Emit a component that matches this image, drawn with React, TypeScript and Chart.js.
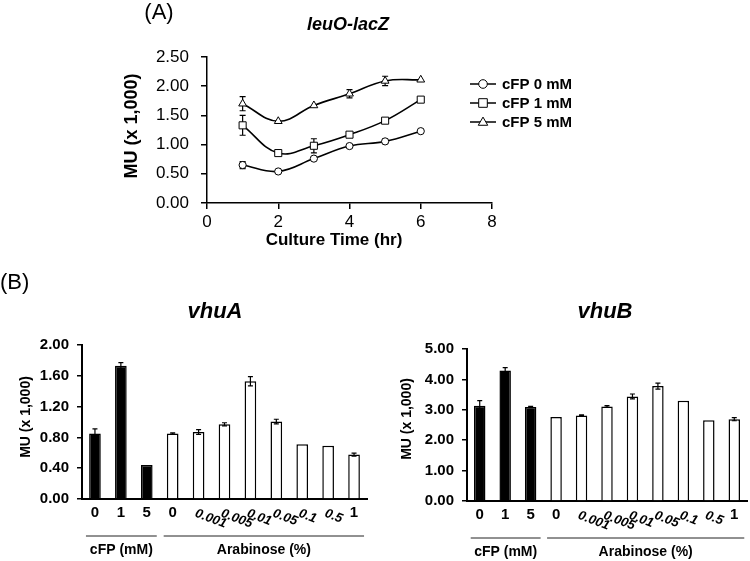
import React, { useEffect, useRef } from 'react';
import { Chart, registerables } from 'chart.js';

Chart.register(...registerables);

const FONT = "'Liberation Sans', Arial, Helvetica, sans-serif";
Chart.defaults.font.family = FONT;
Chart.defaults.color = '#000';

const W = 750;
const H = 561;

// ---------- Panel A data ----------
const timeHours = [1, 2, 3, 4, 5, 6];
const cfp0 = [0.65, 0.54, 0.76, 0.975, 1.055, 1.23];
const cfp0Err = [0.06, 0, 0, 0, 0.04, 0];
const cfp1 = [1.33, 0.855, 0.98, 1.17, 1.41, 1.77];
const cfp1Err = [0.17, 0, 0.12, 0, 0, 0];
const cfp5 = [1.7, 1.4, 1.67, 1.87, 2.09, 2.11];
const cfp5Err = [0.12, 0, 0, 0.07, 0.08, 0];
const seriesNamesA = ['cFP 0 mM', 'cFP 1 mM', 'cFP 5 mM'];
const markerStylesA = ['circle', 'rect', 'triangle'];

// ---------- Panel B data ----------
const conditionLabels = ['0', '1', '5', '0', '0.001', '0.005', '0.01', '0.05', '0.1', '0.5', '1'];
const vhuAValues = [0.85, 1.73, 0.44, 0.85, 0.87, 0.97, 1.53, 1.006, 0.71, 0.69, 0.577];
const vhuAErr = [0.06, 0.04, 0, 0.01, 0.03, 0.02, 0.06, 0.03, 0, 0, 0.02];
const vhuBValues = [3.13, 4.29, 3.09, 2.76, 2.81, 3.11, 3.44, 3.78, 3.3, 2.66, 2.69];
const vhuBErr = [0.17, 0.1, 0.02, 0, 0.02, 0.03, 0.08, 0.1, 0, 0, 0.05];
const groupNames = ['cFP (mM)', 'Arabinose (%)'];
const groupFirst = [0, 3];
const groupLast = [2, 10];

type TextItem = { text: string; x: number; y: number; font: string; rotate?: number; align?: CanvasTextAlign };

function textsPlugin(items: TextItem[]) {
  return {
    id: 'texts',
    afterDraw(chart: any) {
      const ctx = chart.ctx as CanvasRenderingContext2D;
      items.forEach((t) => {
        ctx.save();
        ctx.translate(t.x, t.y);
        if (t.rotate) ctx.rotate(t.rotate);
        ctx.font = t.font;
        ctx.fillStyle = '#000';
        ctx.textAlign = t.align || 'center';
        ctx.textBaseline = 'middle';
        ctx.fillText(t.text, 0, 0);
        ctx.restore();
      });
    },
  };
}

function errorBarsPlugin(errors: number[][], below: boolean, cap: number, lineWidth: number) {
  const draw = (chart: any) => {
    const ctx = chart.ctx as CanvasRenderingContext2D;
    const yScale = chart.scales.y;
    ctx.save();
    ctx.strokeStyle = '#000';
    ctx.lineWidth = lineWidth;
    chart.data.datasets.forEach((ds: any, i: number) => {
      const errs = errors[i];
      if (!errs) return;
      const meta = chart.getDatasetMeta(i);
      meta.data.forEach((el: any, j: number) => {
        const e = errs[j];
        if (!e) return;
        const d = ds.data[j];
        const v = typeof d === 'number' ? d : d.y;
        const x = el.x;
        const yTop = yScale.getPixelForValue(v + e);
        const yBot = yScale.getPixelForValue(v - e);
        ctx.beginPath();
        ctx.moveTo(x, yTop);
        ctx.lineTo(x, yBot);
        ctx.moveTo(x - cap, yTop);
        ctx.lineTo(x + cap, yTop);
        ctx.moveTo(x - cap, yBot);
        ctx.lineTo(x + cap, yBot);
        ctx.stroke();
      });
    });
    ctx.restore();
  };
  return {
    id: 'errorBars',
    beforeDatasetsDraw(chart: any) {
      if (below) draw(chart);
    },
    afterDatasetsDraw(chart: any) {
      if (!below) draw(chart);
    },
  };
}

function drawMarker(ctx: CanvasRenderingContext2D, style: string, x: number, y: number, r: number) {
  ctx.beginPath();
  if (style === 'circle') {
    ctx.arc(x, y, r, 0, Math.PI * 2);
  } else if (style === 'rect') {
    ctx.rect(x - r, y - r, 2 * r, 2 * r);
  } else {
    const h = r * 1.9;
    ctx.moveTo(x, y - h * 0.6);
    ctx.lineTo(x + r * 1.1, y + h * 0.4);
    ctx.lineTo(x - r * 1.1, y + h * 0.4);
    ctx.closePath();
  }
  ctx.fillStyle = '#fff';
  ctx.fill();
  ctx.stroke();
}

function legendPluginA() {
  return {
    id: 'legendA',
    afterDraw(chart: any) {
      const ctx = chart.ctx as CanvasRenderingContext2D;
      chart.data.datasets.forEach((ds: any, i: number) => {
        const y = 84 + i * 19;
        ctx.save();
        ctx.strokeStyle = '#000';
        ctx.lineWidth = 1.5;
        ctx.beginPath();
        ctx.moveTo(470, y);
        ctx.lineTo(496, y);
        ctx.stroke();
        ctx.lineWidth = 1;
        drawMarker(ctx, markerStylesA[i], 483, y, 4.3);
        ctx.font = `bold 15px ${FONT}`;
        ctx.fillStyle = '#000';
        ctx.textAlign = 'left';
        ctx.textBaseline = 'middle';
        ctx.fillText(ds.label, 502, y + 0.5);
        ctx.restore();
      });
    },
  };
}

function categoryAxisPlugin() {
  return {
    id: 'categoryAxis',
    afterDraw(chart: any) {
      const ctx = chart.ctx as CanvasRenderingContext2D;
      const xs = chart.scales.x;
      const bottom = chart.chartArea.bottom;
      const labels: string[] = chart.data.labels;
      ctx.save();
      ctx.fillStyle = '#000';
      labels.forEach((lab, i) => {
        const x = xs.getPixelForValue(i);
        ctx.save();
        if (lab.includes('.')) {
          ctx.translate(x - 3, bottom + 14);
          ctx.rotate(0.36);
          ctx.font = `italic bold 13px ${FONT}`;
          ctx.textAlign = 'left';
        } else {
          ctx.translate(x, bottom + 14);
          ctx.font = `bold 15px ${FONT}`;
          ctx.textAlign = 'center';
        }
        ctx.textBaseline = 'middle';
        ctx.fillText(lab, 0, 0);
        ctx.restore();
      });
      groupNames.forEach((name, g) => {
        const x0 = xs.getPixelForValue(groupFirst[g]) - 9;
        const x1 = xs.getPixelForValue(groupLast[g]) + 10;
        ctx.strokeStyle = '#222';
        ctx.lineWidth = 1;
        ctx.beginPath();
        ctx.moveTo(x0, bottom + 37);
        ctx.lineTo(x1, bottom + 37);
        ctx.stroke();
        ctx.font = `bold 14px ${FONT}`;
        ctx.textAlign = 'center';
        ctx.textBaseline = 'middle';
        ctx.fillText(name, (x0 + x1) / 2, bottom + 51);
      });
      ctx.restore();
    },
  };
}

const axisGrid = (tickLength: number) => ({
  display: true,
  drawOnChartArea: false,
  drawTicks: true,
  tickLength,
  color: '#000',
  lineWidth: 1.5,
});

function lineDataset(label: string, values: number[], style: string, radius: number) {
  return {
    label,
    data: timeHours.map((x, i) => ({ x, y: values[i] })),
    borderColor: '#000',
    borderWidth: 1.6,
    pointStyle: style,
    pointRadius: radius,
    pointBackgroundColor: '#fff',
    pointBorderColor: '#000',
    pointBorderWidth: 1,
    tension: 0.4,
    fill: false,
  };
}

function configA(): any {
  return {
    type: 'line',
    data: {
      datasets: [
        lineDataset(seriesNamesA[0], cfp0, 'circle', 3.6),
        lineDataset(seriesNamesA[1], cfp1, 'rect', 5),
        lineDataset(seriesNamesA[2], cfp5, 'triangle', 4.5),
      ],
    },
    options: {
      responsive: false,
      animation: false,
      devicePixelRatio: 1,
      events: [],
      layout: { padding: { left: 147, right: 258, top: 57, bottom: 328 } },
      plugins: { legend: { display: false }, tooltip: { enabled: false }, title: { display: false } },
      scales: {
        x: {
          type: 'linear',
          min: 0,
          max: 8,
          ticks: { stepSize: 2, font: { size: 17 }, color: '#000', padding: 3 },
          grid: axisGrid(6),
          border: { display: true, color: '#000', width: 1.5 },
          afterFit: (s: any) => {
            s.height = 30;
          },
        },
        y: {
          min: 0,
          max: 2.5,
          ticks: {
            stepSize: 0.5,
            font: { size: 17 },
            color: '#000',
            padding: 12,
            callback: (v: any) => Number(v).toFixed(2),
          },
          grid: axisGrid(6),
          border: { display: true, color: '#000', width: 1.5 },
          afterFit: (s: any) => {
            s.width = 60;
          },
        },
      },
    },
    plugins: [
      errorBarsPlugin([cfp0Err, cfp1Err, cfp5Err], true, 3, 1.2),
      legendPluginA(),
      textsPlugin([
        { text: '(A)', x: 159, y: 13, font: `22px ${FONT}` },
        { text: 'leuO-lacZ', x: 348, y: 25, font: `italic bold 18px ${FONT}` },
        { text: 'MU (x 1,000)', x: 132, y: 126, font: `bold 18px ${FONT}`, rotate: -Math.PI / 2 },
        { text: 'Culture Time (hr)', x: 334, y: 240, font: `bold 17px ${FONT}` },
      ]),
    ],
  };
}

function configB(
  values: number[],
  errs: number[],
  max: number,
  step: number,
  pad: { left: number; right: number; top: number; bottom: number },
  texts: TextItem[]
): any {
  const fills = conditionLabels.map((_, i) => (i <= groupLast[0] ? '#000' : '#fff'));
  return {
    type: 'bar',
    data: {
      labels: conditionLabels,
      datasets: [
        {
          label: 'MU',
          data: values,
          backgroundColor: fills,
          borderColor: '#000',
          borderWidth: 1.5,
          barPercentage: 0.45,
          categoryPercentage: 1,
        },
      ],
    },
    options: {
      responsive: false,
      animation: false,
      devicePixelRatio: 1,
      events: [],
      layout: { padding: pad },
      plugins: { legend: { display: false }, tooltip: { enabled: false }, title: { display: false } },
      scales: {
        x: {
          type: 'category',
          offset: true,
          ticks: { display: false },
          grid: { display: false },
          border: { display: true, color: '#000', width: 2 },
          afterFit: (s: any) => {
            s.height = 10;
          },
        },
        y: {
          min: 0,
          max,
          ticks: {
            stepSize: step,
            font: { size: 15, weight: 'bold' },
            color: '#000',
            padding: 8,
            callback: (v: any) => Number(v).toFixed(2),
          },
          grid: axisGrid(5),
          border: { display: true, color: '#000', width: 2 },
          afterFit: (s: any) => {
            s.width = 60;
          },
        },
      },
    },
    plugins: [errorBarsPlugin([errs], false, 2.5, 1.2), categoryAxisPlugin(), textsPlugin(texts)],
  };
}

function ChartLayer({ make }: { make: () => any }) {
  const ref = useRef<HTMLCanvasElement | null>(null);
  useEffect(() => {
    if (!ref.current) return;
    const chart = new Chart(ref.current, make());
    return () => chart.destroy();
  }, [make]);
  return (
    <canvas
      ref={ref}
      width={W}
      height={H}
      style={{ position: 'absolute', left: 0, top: 0, width: W, height: H }}
    />
  );
}

const makeA = () => configA();
const makeVhuA = () =>
  configB(vhuAValues, vhuAErr, 2, 0.4, { left: 22, right: 383, top: 345, bottom: 52 }, [
    { text: '(B)', x: 0, y: 283, font: `22px ${FONT}`, align: 'left' },
    { text: 'vhuA', x: 215, y: 312, font: `italic bold 22px ${FONT}` },
    { text: 'MU (x 1,000)', x: 26, y: 417, font: `bold 14px ${FONT}`, rotate: -Math.PI / 2 },
  ]);
const makeVhuB = () =>
  configB(vhuBValues, vhuBErr, 5, 1, { left: 407, right: 3, top: 349, bottom: 50 }, [
    { text: 'vhuB', x: 605, y: 312, font: `italic bold 22px ${FONT}` },
    { text: 'MU (x 1,000)', x: 407, y: 419, font: `bold 14px ${FONT}`, rotate: -Math.PI / 2 },
  ]);

export default function App() {
  return (
    <div style={{ position: 'absolute', left: 0, top: 0, width: W, height: H, background: '#fff' }}>
      <ChartLayer make={makeA} />
      <ChartLayer make={makeVhuA} />
      <ChartLayer make={makeVhuB} />
    </div>
  );
}
